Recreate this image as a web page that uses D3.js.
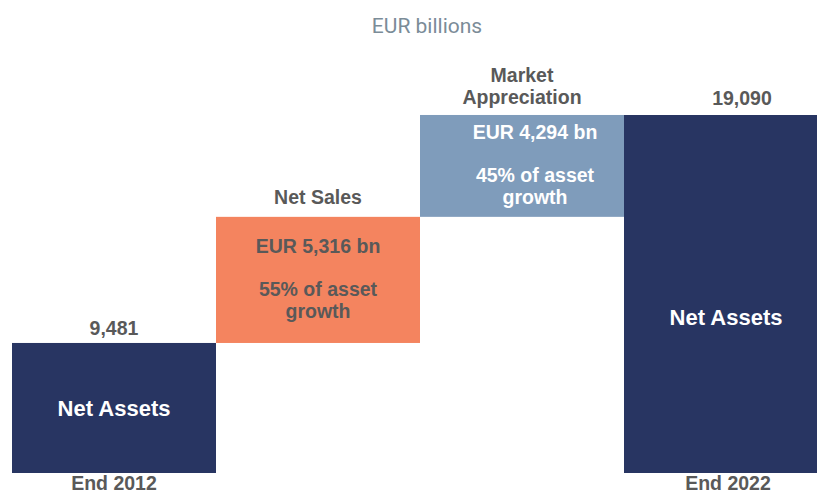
<!DOCTYPE html>
<html>
<head>
<meta charset="utf-8">
<script src="https://cdn.jsdelivr.net/npm/d3@7"></script>
<style>
  body { margin: 0; background: #fff; }
  svg { display: block; }
</style>
</head>
<body>
<div id="chart"></div>
<script>
const categories = ["End 2012", "Net Sales", "Market Appreciation", "End 2022"]
const values = [9481, 5316, 4294, 19090]
const kinds = ["total", "step", "step", "total"]
const topLabels = [["9,481"], ["Net Sales"], ["Market", "Appreciation"], ["19,090"]]
const innerLabels = [["Net Assets"], ["EUR 5,316 bn", "", "55% of asset", "growth"], ["EUR 4,294 bn", "", "45% of asset", "growth"], ["Net Assets"]]
const bottomLabels = ["End 2012", "", "", "End 2022"]

const width = 817
const height = 493
const colors = ["#283562", "#f4845f", "#7f9cbb", "#283562"]
const innerColors = ["#ffffff", "#595959", "#ffffff", "#ffffff"]
const grey = "#595959"

// build waterfall steps
let running = 0
const bars = categories.map((c, i) => {
  let start, end
  if (kinds[i] === "total") { start = null; end = values[i]; running = values[i] }
  else { start = running; end = running + values[i]; running = end }
  return { cat: c, start: start, end: end, i: i }
})

const x = d3.scaleBand().domain(categories).range([12, 828]).padding(0)
const y = d3.scaleLinear().domain([4000, 19090]).range([473, 115])

const svg = d3.select("#chart").append("svg")
  .attr("width", width)
  .attr("height", height)

svg.append("text")
  .text("EUR billions")
  .attr("x", 427)
  .attr("y", 33)
  .attr("text-anchor", "middle")
  .attr("font-family", "Roboto")
  .attr("font-size", 21)
  .attr("fill", "#7b8c98")

const baseY = y.range()[0]

svg.append("g").selectAll("rect")
  .data(bars).enter().append("rect")
    .attr("x", d => x(d.cat))
    .attr("width", x.bandwidth())
    .attr("y", d => y(d.end))
    .attr("height", d => (d.start === null ? baseY : y(d.start)) - y(d.end))
    .attr("fill", d => colors[d.i])

const font = "'Liberation Sans', Arial, sans-serif"

// labels above bars
const topShift = [8, 13, 11, 10]
const topDx = [0, 0, 0, 16]
bars.forEach(d => {
  const lines = topLabels[d.i]
  const cx = x(d.cat) + x.bandwidth() / 2 + topDx[d.i]
  const yb = y(d.end) - topShift[d.i]
  lines.forEach((t, k) => {
    svg.append("text")
      .text(t)
      .attr("x", cx)
      .attr("y", yb - (lines.length - 1 - k) * 21.5)
      .attr("text-anchor", "middle")
      .attr("font-family", font)
      .attr("font-weight", "bold")
      .attr("font-size", 19.5)
      .attr("fill", grey)
  })
})

// labels inside bars
const innerFirst = [0, 36, 24, 0]
bars.forEach(d => {
  const lines = innerLabels[d.i]
  const top = y(d.end)
  const bottom = d.start === null ? baseY : y(d.start)
  let cx = x(d.cat) + x.bandwidth() / 2
  let size = 19.5
  let yy
  if (lines.length === 1) {
    size = 22
    const mid = (top + bottom) / 2
    yy = [d.i === 0 ? mid + 8 : mid + 31]
  } else {
    if (d.i === 2) cx += 13
    const first = top + innerFirst[d.i]
    yy = [first, 0, first + 43.5, first + 65.5]
  }
  lines.forEach((t, k) => {
    if (t === "") return
    svg.append("text")
      .text(t)
      .attr("x", cx)
      .attr("y", yy[k])
      .attr("text-anchor", "middle")
      .attr("font-family", font)
      .attr("font-weight", "bold")
      .attr("font-size", size)
      .attr("fill", innerColors[d.i])
  })
})

// category labels below
svg.append("g").selectAll("text")
  .data(bars.filter(d => bottomLabels[d.i] !== "")).enter().append("text")
    .text(d => bottomLabels[d.i])
    .attr("x", d => x(d.cat) + x.bandwidth() / 2 + (d.i === 3 ? 2 : 0))
    .attr("y", baseY + 17)
    .attr("text-anchor", "middle")
    .attr("font-family", font)
    .attr("font-weight", "bold")
    .attr("font-size", 19.5)
    .attr("fill", grey)
</script>
</body>
</html>
